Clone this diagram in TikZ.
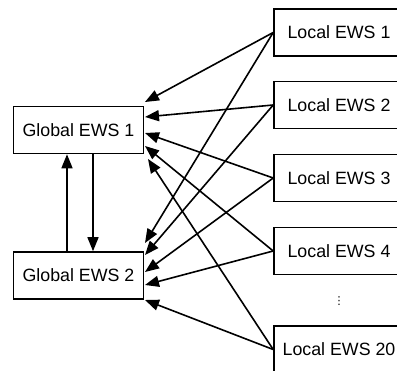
\documentclass[tikz,border=0pt]{standalone}
\usepackage{fontspec}
\setmainfont{Liberation Sans}
\newfontfamily\dejavu{DejaVu Sans}
\usetikzlibrary{arrows.meta}
\begin{document}
\begin{tikzpicture}[x=1pt,y=-1pt,
  box/.style={draw,line width=1.6pt,minimum width=130pt,minimum height=47pt,inner sep=0pt,font=\fontsize{17.8}{20}\selectfont},
  arr/.style={line width=1.6pt,-{Triangle[length=14pt,width=11pt]}}]
\useasboundingbox (0,0) rectangle (397,371);
\node[box] (g1) at (78.5,130) {Global EWS 1};
\node[box] (g2) at (78.5,275.5) {Global EWS 2};
\node[box] (l1) at (339,32.5) {Local EWS 1};
\node[box] (l2) at (339,105) {Local EWS 2};
\node[box] (l3) at (339,178) {Local EWS 3};
\node[box] (l4) at (339,251) {Local EWS 4};
\node[box] (l20) at (339,349.5) {Local EWS 20};
\node[font=\dejavu\fontsize{11}{12}\selectfont] (dots) at (339,301) {⋮};
% end points on the global boxes
\coordinate (a1) at (145,102);
\coordinate (a2) at (145,117);
\coordinate (a3) at (145,133);
\coordinate (a4) at (145,146);
\coordinate (a5) at (148,159);
\coordinate (b1) at (145,243);
\coordinate (b2) at (145,255);
\coordinate (b3) at (145,272);
\coordinate (b4) at (145,285);
\coordinate (b5) at (145,300);
\draw[arr] (l1.west) -- (a1);
\draw[arr] (l2.west) -- (a2);
\draw[arr] (l3.west) -- (a3);
\draw[arr] (l4.west) -- (a4);
\draw[arr] (l20.west) -- (a5);
\draw[arr] (l1.west) -- (b1);
\draw[arr] (l2.west) -- (b2);
\draw[arr] (l3.west) -- (b3);
\draw[arr] (l4.west) -- (b4);
\draw[arr] (l20.west) -- (b5);
\draw[arr] (g2.north -| 67,0) -- (g1.south -| 67,0);
\draw[arr] (g1.south -| 93,0) -- (g2.north -| 93,0);
\end{tikzpicture}
\end{document}
